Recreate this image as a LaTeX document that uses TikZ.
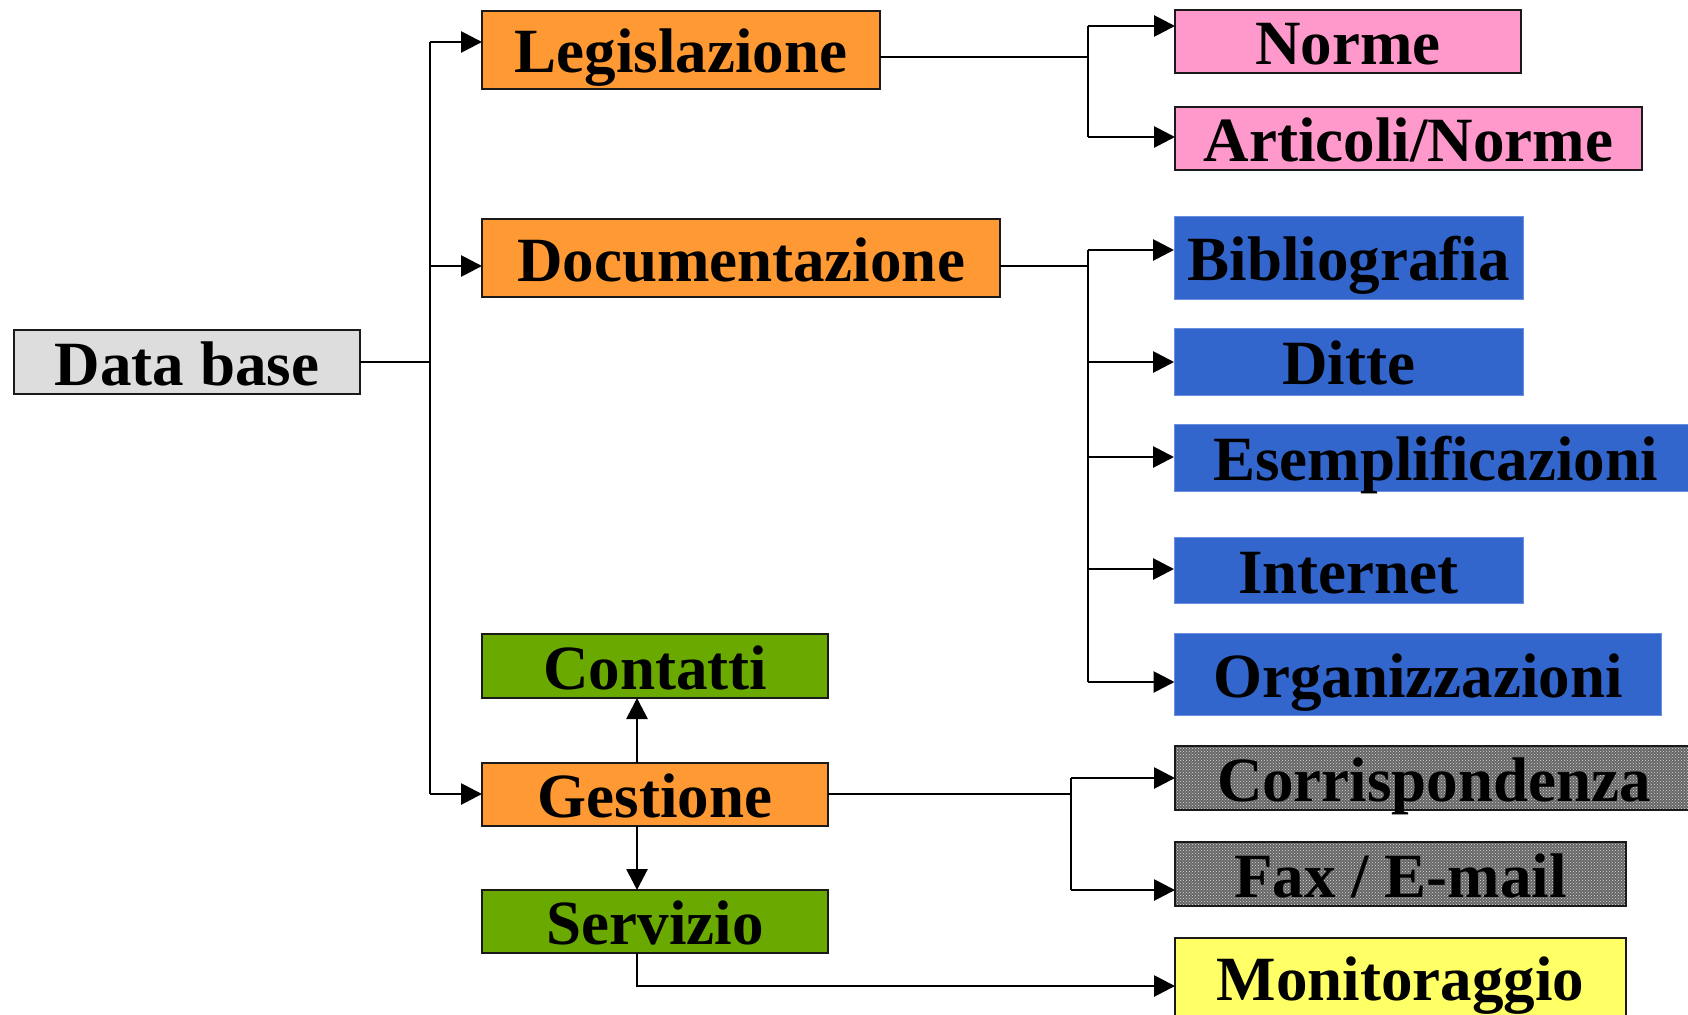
\documentclass[tikz,border=0pt]{standalone}
\usepackage{fontspec}
\setmainfont{Liberation Serif}
\usetikzlibrary{arrows.meta,patterns,calc}
\definecolor{cOrange}{HTML}{FF9933}
\definecolor{cPink}{HTML}{FF99CC}
\definecolor{cBlue}{HTML}{3366CC}
\definecolor{cBlueEdge}{HTML}{6A8FE0}
\definecolor{cGreen}{HTML}{6AAA00}
\definecolor{cLight}{HTML}{DDDDDD}
\definecolor{cYellow}{HTML}{FFFF66}
\definecolor{cEdge}{HTML}{1A1A1A}
\tikzset{
  box/.style={draw=cEdge, line width=2.8pt, inner sep=0pt, outer sep=0pt,
    font=\fontsize{63}{70}\selectfont\bfseries,
    text height=50pt, text depth=4pt, align=center},
  bluebox/.style={box, draw=cBlueEdge, line width=1pt, fill=cBlue},
  dotbox/.style={box, preaction={fill=black!60}, pattern=crosshatch dots, pattern color=black!15},
  conn/.style={line width=2.8pt, draw=black},
  arr/.style={conn, -{Triangle[length=21pt,width=21pt]}},
}
\begin{document}
\begin{tikzpicture}[x=1pt,y=-1pt]
\useasboundingbox (0,0) rectangle (1688,1014);
\fill[white] (0,0) rectangle (1688,1014);

% level 0
\node[box, fill=cLight, minimum width=346pt, minimum height=64pt] (db) at (187,362) {Data base};

% level 1
\node[box, fill=cOrange, minimum width=398pt, minimum height=78pt] (leg) at (681,50) {Legislazione};
\node[box, fill=cOrange, minimum width=518pt, minimum height=78pt] (doc) at (741,258) {Documentazione};
\node[box, fill=cGreen, minimum width=346pt, minimum height=64pt] (cont) at (655,666) {Contatti};
\node[box, fill=cOrange, minimum width=346pt, minimum height=63pt] (gest) at (655,794.5) {Gestione};
\node[box, fill=cGreen, minimum width=346pt, minimum height=63pt] (serv) at (655,921.5) {Servizio};

% level 2
\node[box, fill=cPink, minimum width=346pt, minimum height=63pt] (norme) at (1348,41.5) {Norme};
\node[box, fill=cPink, minimum width=467pt, minimum height=63pt] (art) at (1408.5,138.5) {Articoli/Norme};

\node[bluebox, minimum width=349pt, minimum height=83pt] (bib) at (1348.5,257.5) {Bibliografia};
\node[bluebox, minimum width=349pt, minimum height=67pt] (ditte) at (1348.5,361.5) {Ditte};
\node[bluebox, minimum width=523pt, minimum height=67pt] (esem) at (1435.5,457.5) {Esemplificazioni};
\node[bluebox, minimum width=349pt, minimum height=66pt] (inter) at (1348.5,570) {Internet};
\node[bluebox, minimum width=487pt, minimum height=82pt] (org) at (1418,674) {Organizzazioni};

\node[dotbox, minimum width=518pt, minimum height=64pt] (corr) at (1434,778) {Corrispondenza};
\node[dotbox, minimum width=451pt, minimum height=64pt] (fax) at (1400.5,874) {Fax / E-mail};
\node[box, fill=cYellow, minimum width=451pt, minimum height=78pt] (mon) at (1400.5,977) {Monitoraggio};

% trunk from Data base
\coordinate (tj) at (430,362);
\coordinate (tleg) at (430,42);
\coordinate (tdoc) at (430,266);
\coordinate (tgest) at (430,794);
\draw[conn] (db.east) -- (tj);
\draw[conn] (tleg) -- (tgest);
\draw[arr] (tleg) -- (tleg -| leg.west);
\draw[arr] (tdoc) -- (tdoc -| doc.west);
\draw[arr] (tgest) -- (tgest -| gest.west);

% Legislazione branch
\coordinate (lb) at (1088,57);
\coordinate (lbn) at (1088,26);
\coordinate (lba) at (1088,137);
\draw[conn] (leg.east |- lb) -- (lb);
\draw[conn] (lbn) -- (lba);
\draw[arr] (lbn) -- (lbn -| norme.west);
\draw[arr] (lba) -- (lba -| art.west);

% Documentazione branch
\coordinate (dbr) at (1088,266);
\coordinate (d1) at (1088,250);
\coordinate (d2) at (1088,362);
\coordinate (d3) at (1088,457);
\coordinate (d4) at (1088,569);
\coordinate (d5) at (1088,682);
\draw[conn] (doc.east |- dbr) -- (dbr);
\draw[conn] (d1) -- (d5);
\draw[arr] (d1) -- (d1 -| bib.west);
\draw[arr] (d2) -- (d2 -| ditte.west);
\draw[arr] (d3) -- (d3 -| esem.west);
\draw[arr] (d4) -- (d4 -| inter.west);
\draw[arr] (d5) -- (d5 -| org.west);

% Gestione up / down
\coordinate (gx) at (637,794);
\draw[arr] (gx |- gest.north) -- (gx |- cont.south);
\draw[arr] (gx |- gest.south) -- (gx |- serv.north);

% Gestione branch
\coordinate (gb) at (1071,794);
\coordinate (g1) at (1071,778);
\coordinate (g2) at (1071,890);
\draw[conn] (gest.east |- gb) -- (gb);
\draw[conn] (g1) -- (g2);
\draw[arr] (g1) -- (g1 -| corr.west);
\draw[arr] (g2) -- (g2 -| fax.west);

% Servizio to Monitoraggio
\coordinate (sm) at (637,986);
\draw[arr] (sm |- serv.south) -- (sm) -- (sm -| mon.west);
\end{tikzpicture}
\end{document}
